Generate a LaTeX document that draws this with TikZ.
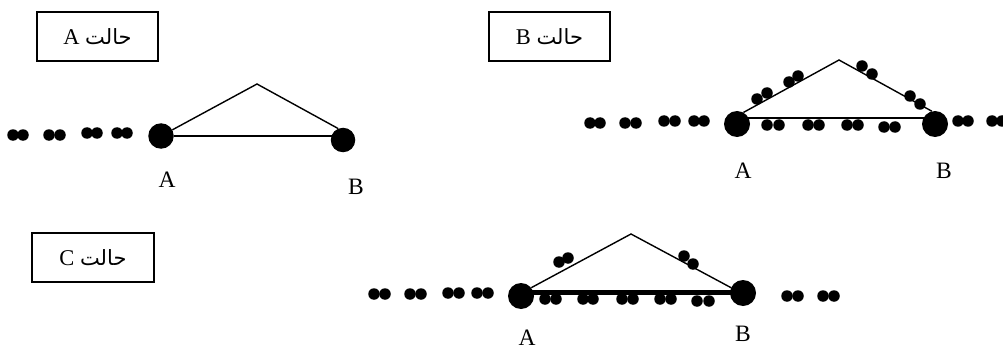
\documentclass[tikz,border=0pt]{standalone}
\usepackage{fontspec}
\setmainfont{Liberation Serif}
\newfontfamily\arabicfont[Script=Arabic]{DejaVu Sans}
\TeXXeTstate=1
\begin{document}
\begin{tikzpicture}[x=1pt,y=-1pt,
  lbl/.style={inner sep=0pt, font=\fontsize{23.5}{27}\selectfont},
  casebox/.style={draw, line width=1.3pt, minimum width=121pt, minimum height=49pt, inner sep=0pt, font=\fontsize{22.5}{26}\selectfont},
  big/.style={circle, fill, inner sep=0pt, minimum size=26pt},
  dot/.style={circle, fill, inner sep=0pt, minimum size=11.5pt},
  edge/.style={line width=1.4pt},
  heavy/.style={line width=5pt}]
\useasboundingbox (0,0) rectangle (1003,350);

% ---------- case A ----------
\node[casebox] (boxA) at (97.5,36.5) {A\ {\arabicfont\fontsize{21}{24}\selectfont\beginR حالت\endR}};
\node[big, minimum size=25.5pt] (Aa) at (161,136) {};
\node[big, minimum size=24.5pt] (Ba) at (343,140) {};
\coordinate (ta) at (257,84);
\draw[edge] (Aa) -- (ta) -- (Ba.113);
\draw[edge] (Aa) -- (Aa -| Ba);
\foreach \x/\y [count=\i] in {13/135,23/135,49/135,60/135,87/133,97/133,117/133,127/133}
  \node[dot] (da\i) at (\x,\y) {};
\node[lbl] (la) at (167,180) {A};
\node[lbl] (lb) at (356,187) {B};

% ---------- case B ----------
\node[casebox] (boxB) at (549.5,36.5) {B\ {\arabicfont\fontsize{21}{24}\selectfont\beginR حالت\endR}};
\node[big] (Ab) at (737,124) {};
\node[big] (Bb) at (935,124) {};
\coordinate (tb) at (839,60);
\draw[edge] (Ab.61) -- (tb) -- (Bb.104);
\draw[edge] ([yshift=6pt]Ab.center) -- ([yshift=6pt]Bb.center);
\foreach \x/\y [count=\i] in {590/123,600/123,625/123,636/123,664/121,675/121,694/121,704/121,
    958/121,968/121,992/121,1002/121,
    767/125,779/125,808/125,819/125,847/125,858/125,884/127,895/127,
    757/99,767/93,789/82,798/76,862/66,872/74,910/96,920/104}
  \node[dot] (db\i) at (\x,\y) {};
\node[lbl] (lc) at (743,171) {A};
\node[lbl] (ld) at (944,171) {B};

% ---------- case C ----------
\node[casebox, minimum width=122pt] (boxC) at (93,257.5) {C\ {\arabicfont\fontsize{21}{24}\selectfont\beginR حالت\endR}};
\node[big] (Ac) at (521,296) {};
\node[big] (Bc) at (743,293) {};
\coordinate (tc) at (631,234);
\draw[edge] (Ac.39) -- (tc) -- (Bc.156);
\draw[heavy] ([yshift=1pt]Ac.center |- Bc.center) -- ([yshift=1pt]Bc.center);
\foreach \x/\y [count=\i] in {374/294,385/294,410/294,421/294,448/293,459/293,477/293,488/293,
    787/296,798/296,823/296,834/296,
    545/299,556/299,583/299,593/299,622/299,633/299,660/299,671/299,697/301,709/301,
    559/262,568/258,684/256,693/264}
  \node[dot] (dc\i) at (\x,\y) {};
\node[lbl] (le) at (527,338) {A};
\node[lbl] (lf) at (743,334) {B};
\end{tikzpicture}
\end{document}
